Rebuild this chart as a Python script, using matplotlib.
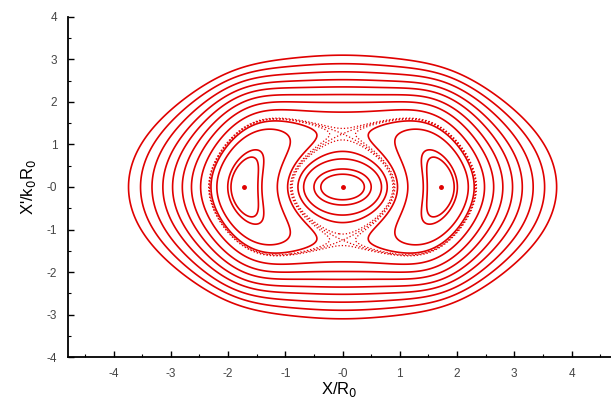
import numpy as np
import matplotlib
matplotlib.use("Agg")
import matplotlib.pyplot as plt
from matplotlib.ticker import MultipleLocator, FuncFormatter

plt.rcParams['font.family'] = ['Liberation Sans', 'DejaVu Sans']

# orbit crossings on the X axis (X' = 0), one value per drawn orbit
core_x = [0.38, 0.50, 0.68, 0.78]
island_x = [1.48, 1.41, 1.14, 0.96]
outer_x = [2.48, 2.64, 2.80, 2.97, 3.14, 3.33, 3.53, 3.74]
outer_top = 3.10    # X' of the outermost orbit at X = 0
fixed_x = 1.72      # centre of the two resonance islands
saddle_p = 1.25     # X-points on the X' axis

# 2:1 resonance invariant in normalised coordinates (u, v), islands at u = 1
v0 = 0.81
a = (1 + v0 ** 2) / 2
c = (1 - v0 ** 2) / 2
gam = 0.09            # u^2 v^2 coupling
eta, sig = 0.4, 0.42  # flattening of the core orbits


def K(u, v):
    r2 = u ** 2 + v ** 2
    return (a * r2 / 2 - r2 ** 2 / 4 + c * (u ** 2 - v ** 2) / 2 + gam * u ** 2 * v ** 2
            + eta * (v ** 2 - u ** 2) * np.exp(-r2 / sig ** 2) / 2)


# mapping of (u, v) onto X/R0 and X'/k0R0
lam, sm, sv = 0.15, 0.5, 0.9


def x_of_u(u):
    return 1.66 * u + (fixed_x - 1.66) * u ** 3


def lift(u, v):
    b = np.exp(-(u - 1) ** 2 / sm ** 2) + np.exp(-(u + 1) ** 2 / sm ** 2)
    t = (v / sv) ** 2
    return 1 + lam * b * t * np.exp(1 - t)


utab = np.linspace(0, 2.4, 5000)


def u_of_x(x):
    return np.interp(x, x_of_u(utab), utab)


# saddle, separatrix level and top of the outermost orbit
vtab = np.linspace(0.3, 2.4, 6000)
kv = K(0.0, vtab)
i_sad = np.argmax(kv)
v_sad, k_sep = vtab[i_sad], kv[i_sad]
ktab = K(utab[utab < 1], 0.0)
u_sep = utab[utab < 1][np.argmin(np.abs(ktab - k_sep))]
k_out = K(u_of_x(outer_x[-1]), 0.0)
v_top = vtab[i_sad:][np.argmin(np.abs(kv[i_sad:] - k_out))]

# stretch of large |v| so that the outermost orbit closes at outer_top
ratio = outer_top / saddle_p
ls, lt = lift(0.0, v_sad), lift(0.0, v_top)
kap = (ratio * v_sad * ls - v_top * lt) / (v_top ** 5 * lt - ratio * v_sad ** 5 * ls)


def p_raw(u, v):
    return v * (1 + kap * v ** 4) * lift(u, v)


beta = saddle_p / p_raw(0.0, v_sad)

ug = np.linspace(-2.3, 2.3, 1100)
vg = np.linspace(-2.3, 2.3, 1000)
U, V = np.meshgrid(ug, vg)
Z = K(U, V)
Xm, Pm = x_of_u(U), beta * p_raw(U, V)
core_box = (np.abs(U) < u_sep + 0.02) & (np.abs(V) < v_sad)

fig = plt.figure(figsize=(6.11, 4.03), dpi=100)
ax = fig.add_axes([0.112, 0.114, 0.888, 0.844])

red = '#e00000'
lw = 1.2
core_lv = np.sort(K(u_of_x(np.array(core_x)), 0.0))
isl_lv = np.sort(K(u_of_x(np.array(island_x)), 0.0))
outer_lv = np.sort(K(u_of_x(np.array(outer_x)), 0.0))

ax.contour(Xm, Pm, np.ma.masked_where(~core_box, Z), levels=core_lv, colors=red,
           linewidths=lw, linestyles='solid')
ax.contour(Xm, Pm, Z, levels=isl_lv, colors=red, linewidths=lw, linestyles='solid')
ax.contour(Xm, Pm, np.ma.masked_where(core_box, Z), levels=outer_lv, colors=red,
           linewidths=lw, linestyles='solid')
# stochastic layer around the separatrix
ax.contour(Xm, Pm, Z, levels=[k_sep - 0.004, k_sep, k_sep + 0.004], colors=red,
           linewidths=0.9, linestyles=':')
ax.plot([fixed_x, -fixed_x, 0], [0, 0, 0], 'o', color=red, ms=2.5)

ax.set_xlim(-4.79, 4.69)
ax.set_ylim(-4, 4)
ax.spines['top'].set_visible(False)
ax.spines['right'].set_visible(False)
ax.spines['left'].set_linewidth(1.3)
ax.spines['bottom'].set_linewidth(1.3)
ax.xaxis.set_major_locator(MultipleLocator(1))
ax.xaxis.set_minor_locator(MultipleLocator(0.5))
ax.yaxis.set_major_locator(MultipleLocator(1))
ax.yaxis.set_minor_locator(MultipleLocator(0.5))
fmt = FuncFormatter(lambda val, pos: '-0' if abs(val) < 1e-9 else '%d' % round(val))
ax.xaxis.set_major_formatter(fmt)
ax.yaxis.set_major_formatter(fmt)
ax.tick_params(which='major', direction='in', length=4, width=1, labelsize=8.5,
               labelcolor='#444444', pad=8)
ax.tick_params(which='minor', direction='in', length=2, width=0.8)
ax.set_xlabel('X/R$_0$', fontsize=12, labelpad=0)
ax.set_ylabel("X'/k$_0$R$_0$", fontsize=12, labelpad=6)

fig.savefig('out.png', dpi=100)
